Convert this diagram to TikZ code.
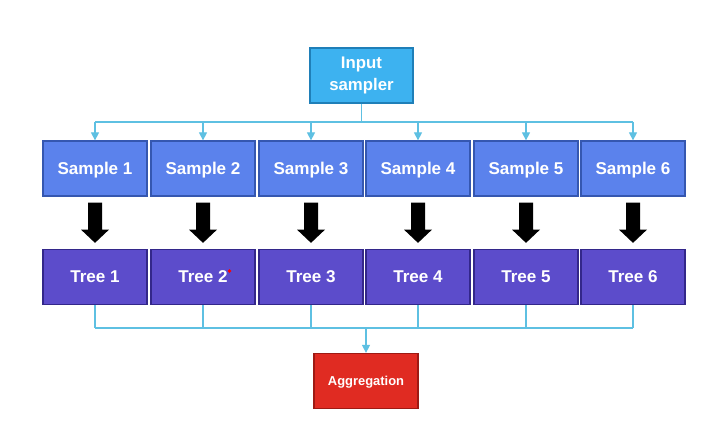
\documentclass[tikz,border=0pt]{standalone}
\usepackage{fontspec}
\setmainfont{Liberation Sans}
\usetikzlibrary{arrows.meta,calc}
\definecolor{inpfill}{HTML}{3DB2F0}
\definecolor{inpdraw}{HTML}{1F7FB8}
\definecolor{smpfill}{HTML}{5B82EC}
\definecolor{smpdraw}{HTML}{3557B0}
\definecolor{trfill}{HTML}{5C4CCB}
\definecolor{trdraw}{HTML}{33278A}
\definecolor{agfill}{HTML}{E02B22}
\definecolor{agdraw}{HTML}{9E1A14}
\definecolor{conn}{HTML}{5EC0E2}
\tikzset{
  box/.style={draw, line width=1.2pt, minimum width=78pt, minimum height=41pt, inner sep=0pt,
    text=white, font=\bfseries\fontsize{12.8}{14}\selectfont, align=center,
    text height=9.2pt, text depth=0.5pt},
  inpbox/.style={box, fill=inpfill, draw=inpdraw, minimum width=77pt, minimum height=41pt,
    font=\bfseries\fontsize{12.6}{16.5}\selectfont, text height=, text depth=},
  smpbox/.style={box, fill=smpfill, draw=smpdraw},
  trbox/.style={box, fill=trfill, draw=trdraw},
  agbox/.style={box, fill=agfill, draw=agdraw, font=\bfseries\fontsize{9.7}{11}\selectfont,
    text height=7pt, text depth=0.5pt},
  wire/.style={draw=conn, line width=0.9pt},
  wirearrow/.style={wire, -{Triangle[width=6pt,length=6pt]}},
}
\begin{document}
\begin{tikzpicture}[x=0.75pt,y=-0.75pt]
\useasboundingbox[fill=white] (0,0) rectangle (708,428);
\node[inpbox] (inp) at (361.5,75.5) {Input\\sampler};
\foreach \i/\x in {1/95,2/203,3/311,4/418,5/526,6/633}{
  \node[smpbox] (s\i) at (\x,168.5) {Sample \i};
  \node[trbox] (t\i) at (\x,277) {Tree \i};
}
\node[agbox] (agg) at (366,381) {Aggregation};
% top bus
\coordinate (tb) at (361.5,122);
\draw[wire] (inp.south) -- (tb);
\draw[wire] (s1.north |- tb) -- (s6.north |- tb);
\foreach \i in {1,...,6}{
  \draw[wirearrow] (s\i.north |- tb) -- (s\i.north);
}
% black arrows
\foreach \i in {1,...,6}{
  \fill[black] ($(s\i.south)+(-7,6)$) -- ($(s\i.south)+(7,6)$) -- ($(s\i.south)+(7,33)$)
    -- ($(s\i.south)+(14,33)$) -- ($(t\i.north)+(0,-6)$) -- ($(s\i.south)+(-14,33)$)
    -- ($(s\i.south)+(-7,33)$) -- cycle;
}
% bottom bus
\coordinate (bb) at (366,328);
\foreach \i in {1,...,6}{
  \draw[wire] (t\i.south) -- (t\i.south |- bb);
}
\draw[wire] (t1.south |- bb) -- (t6.south |- bb);
\draw[wirearrow] (bb) -- (agg.north);
% pointer dot
\fill[red] (229.5,271) circle (1.8);
\end{tikzpicture}
\end{document}
